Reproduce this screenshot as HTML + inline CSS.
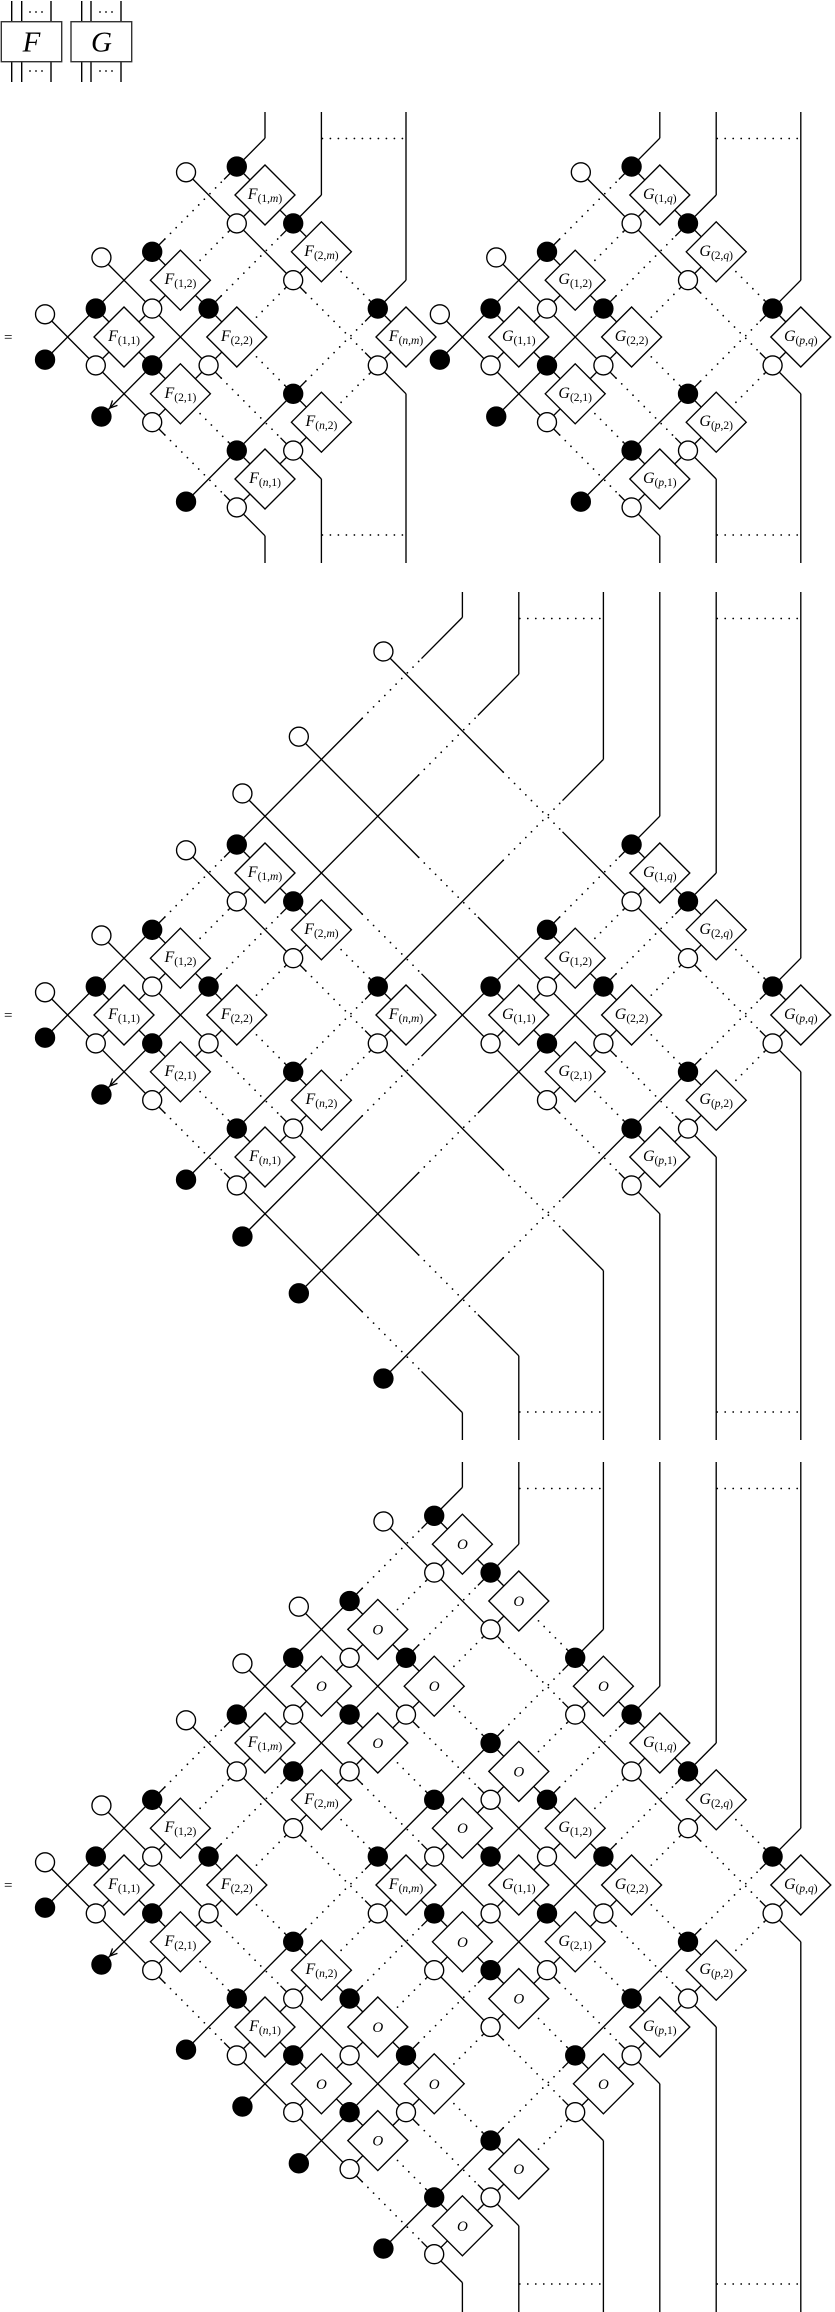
<!DOCTYPE html>
<html><head><meta charset="utf-8"><style>
html,body{margin:0;padding:0;background:#fff;}
svg{display:block;}
text{font-family:"Liberation Serif",serif;}
</style></head><body>
<svg id="s" width="835" height="2312" viewBox="0 0 835 2312" xmlns="http://www.w3.org/2000/svg">
<rect width="835" height="2312" fill="#fff"/>
<g stroke="#000" stroke-width="1.4" fill="none">
<line x1="11.7" y1="1" x2="11.7" y2="21.7"/><line x1="21.7" y1="1" x2="21.7" y2="21.7"/><line x1="51" y1="1" x2="51" y2="21.7"/>
<line x1="11.7" y1="61.7" x2="11.7" y2="82"/><line x1="21.7" y1="61.7" x2="21.7" y2="82"/><line x1="51" y1="61.7" x2="51" y2="82"/>
<line x1="81.7" y1="1" x2="81.7" y2="21.7"/><line x1="91" y1="1" x2="91" y2="21.7"/><line x1="121" y1="1" x2="121" y2="21.7"/>
<line x1="81.7" y1="61.7" x2="81.7" y2="82"/><line x1="91" y1="61.7" x2="91" y2="82"/><line x1="121" y1="61.7" x2="121" y2="82"/>
<rect x="1.3" y="21.7" width="60.4" height="40" stroke="#333"/>
<rect x="71" y="21.7" width="60.7" height="40" stroke="#333"/>
</g>
<g fill="#000">
<circle cx="30" cy="12" r="0.9"/><circle cx="36" cy="12" r="0.9"/><circle cx="42" cy="12" r="0.9"/>
<circle cx="30" cy="71" r="0.9"/><circle cx="36" cy="71" r="0.9"/><circle cx="42" cy="71" r="0.9"/>
<circle cx="100" cy="12" r="0.9"/><circle cx="106" cy="12" r="0.9"/><circle cx="112" cy="12" r="0.9"/>
<circle cx="100" cy="71" r="0.9"/><circle cx="106" cy="71" r="0.9"/><circle cx="112" cy="71" r="0.9"/>
</g>
<text x="31.5" y="51.5" font-size="29" font-style="italic" text-anchor="middle">F</text>
<text x="101.5" y="51.5" font-size="29" font-style="italic" text-anchor="middle">G</text>
<text x="4" y="342" font-size="15">=</text>
<text x="4" y="1020" font-size="15">=</text>
<text x="4" y="1890" font-size="15">=</text>
<g id="L" stroke="#000" stroke-width="1.35" fill="none"></g>
<g id="D" stroke="#000" stroke-width="1.35" fill="#fff"></g>
<g id="K" stroke="#000" stroke-width="1.35"></g>

<g id="labels" text-anchor="middle" font-size="16">
<g transform="translate(0,337)">
<text x="124" y="4"><tspan font-style="italic">F</tspan><tspan font-size="11.5" dy="3">(1,1)</tspan></text>
<text x="180.4" y="-52.8"><tspan font-style="italic">F</tspan><tspan font-size="11.5" dy="3">(1,2)</tspan></text>
<text x="265" y="-138"><tspan font-style="italic">F</tspan><tspan font-size="11.5" dy="3">(1,<tspan font-style="italic">m</tspan>)</tspan></text>
<text x="180.4" y="60.8"><tspan font-style="italic">F</tspan><tspan font-size="11.5" dy="3">(2,1)</tspan></text>
<text x="236.8" y="4"><tspan font-style="italic">F</tspan><tspan font-size="11.5" dy="3">(2,2)</tspan></text>
<text x="321.4" y="-81.2"><tspan font-style="italic">F</tspan><tspan font-size="11.5" dy="3">(2,<tspan font-style="italic">m</tspan>)</tspan></text>
<text x="265" y="146"><tspan font-style="italic">F</tspan><tspan font-size="11.5" dy="3">(<tspan font-style="italic">n</tspan>,1)</tspan></text>
<text x="321.4" y="89.2"><tspan font-style="italic">F</tspan><tspan font-size="11.5" dy="3">(<tspan font-style="italic">n</tspan>,2)</tspan></text>
<text x="406" y="4"><tspan font-style="italic">F</tspan><tspan font-size="11.5" dy="3">(<tspan font-style="italic">n</tspan>,<tspan font-style="italic">m</tspan>)</tspan></text>
<text x="518.8" y="4"><tspan font-style="italic">G</tspan><tspan font-size="11.5" dy="3">(1,1)</tspan></text>
<text x="575.2" y="-52.8"><tspan font-style="italic">G</tspan><tspan font-size="11.5" dy="3">(1,2)</tspan></text>
<text x="659.8" y="-138"><tspan font-style="italic">G</tspan><tspan font-size="11.5" dy="3">(1,<tspan font-style="italic">q</tspan>)</tspan></text>
<text x="575.2" y="60.8"><tspan font-style="italic">G</tspan><tspan font-size="11.5" dy="3">(2,1)</tspan></text>
<text x="631.6" y="4"><tspan font-style="italic">G</tspan><tspan font-size="11.5" dy="3">(2,2)</tspan></text>
<text x="716.2" y="-81.2"><tspan font-style="italic">G</tspan><tspan font-size="11.5" dy="3">(2,<tspan font-style="italic">q</tspan>)</tspan></text>
<text x="659.8" y="146"><tspan font-style="italic">G</tspan><tspan font-size="11.5" dy="3">(<tspan font-style="italic">p</tspan>,1)</tspan></text>
<text x="716.2" y="89.2"><tspan font-style="italic">G</tspan><tspan font-size="11.5" dy="3">(<tspan font-style="italic">p</tspan>,2)</tspan></text>
<text x="800.8" y="4"><tspan font-style="italic">G</tspan><tspan font-size="11.5" dy="3">(<tspan font-style="italic">p</tspan>,<tspan font-style="italic">q</tspan>)</tspan></text>
</g>
<g transform="translate(0,1015)">
<text x="124" y="4"><tspan font-style="italic">F</tspan><tspan font-size="11.5" dy="3">(1,1)</tspan></text>
<text x="180.4" y="-52.8"><tspan font-style="italic">F</tspan><tspan font-size="11.5" dy="3">(1,2)</tspan></text>
<text x="265" y="-138"><tspan font-style="italic">F</tspan><tspan font-size="11.5" dy="3">(1,<tspan font-style="italic">m</tspan>)</tspan></text>
<text x="180.4" y="60.8"><tspan font-style="italic">F</tspan><tspan font-size="11.5" dy="3">(2,1)</tspan></text>
<text x="236.8" y="4"><tspan font-style="italic">F</tspan><tspan font-size="11.5" dy="3">(2,2)</tspan></text>
<text x="321.4" y="-81.2"><tspan font-style="italic">F</tspan><tspan font-size="11.5" dy="3">(2,<tspan font-style="italic">m</tspan>)</tspan></text>
<text x="265" y="146"><tspan font-style="italic">F</tspan><tspan font-size="11.5" dy="3">(<tspan font-style="italic">n</tspan>,1)</tspan></text>
<text x="321.4" y="89.2"><tspan font-style="italic">F</tspan><tspan font-size="11.5" dy="3">(<tspan font-style="italic">n</tspan>,2)</tspan></text>
<text x="406" y="4"><tspan font-style="italic">F</tspan><tspan font-size="11.5" dy="3">(<tspan font-style="italic">n</tspan>,<tspan font-style="italic">m</tspan>)</tspan></text>
<text x="518.8" y="4"><tspan font-style="italic">G</tspan><tspan font-size="11.5" dy="3">(1,1)</tspan></text>
<text x="575.2" y="-52.8"><tspan font-style="italic">G</tspan><tspan font-size="11.5" dy="3">(1,2)</tspan></text>
<text x="659.8" y="-138"><tspan font-style="italic">G</tspan><tspan font-size="11.5" dy="3">(1,<tspan font-style="italic">q</tspan>)</tspan></text>
<text x="575.2" y="60.8"><tspan font-style="italic">G</tspan><tspan font-size="11.5" dy="3">(2,1)</tspan></text>
<text x="631.6" y="4"><tspan font-style="italic">G</tspan><tspan font-size="11.5" dy="3">(2,2)</tspan></text>
<text x="716.2" y="-81.2"><tspan font-style="italic">G</tspan><tspan font-size="11.5" dy="3">(2,<tspan font-style="italic">q</tspan>)</tspan></text>
<text x="659.8" y="146"><tspan font-style="italic">G</tspan><tspan font-size="11.5" dy="3">(<tspan font-style="italic">p</tspan>,1)</tspan></text>
<text x="716.2" y="89.2"><tspan font-style="italic">G</tspan><tspan font-size="11.5" dy="3">(<tspan font-style="italic">p</tspan>,2)</tspan></text>
<text x="800.8" y="4"><tspan font-style="italic">G</tspan><tspan font-size="11.5" dy="3">(<tspan font-style="italic">p</tspan>,<tspan font-style="italic">q</tspan>)</tspan></text>
</g>
<g transform="translate(0,1885)">
<text x="124" y="4"><tspan font-style="italic">F</tspan><tspan font-size="11.5" dy="3">(1,1)</tspan></text>
<text x="180.4" y="-52.8"><tspan font-style="italic">F</tspan><tspan font-size="11.5" dy="3">(1,2)</tspan></text>
<text x="265" y="-138"><tspan font-style="italic">F</tspan><tspan font-size="11.5" dy="3">(1,<tspan font-style="italic">m</tspan>)</tspan></text>
<text x="180.4" y="60.8"><tspan font-style="italic">F</tspan><tspan font-size="11.5" dy="3">(2,1)</tspan></text>
<text x="236.8" y="4"><tspan font-style="italic">F</tspan><tspan font-size="11.5" dy="3">(2,2)</tspan></text>
<text x="321.4" y="-81.2"><tspan font-style="italic">F</tspan><tspan font-size="11.5" dy="3">(2,<tspan font-style="italic">m</tspan>)</tspan></text>
<text x="265" y="146"><tspan font-style="italic">F</tspan><tspan font-size="11.5" dy="3">(<tspan font-style="italic">n</tspan>,1)</tspan></text>
<text x="321.4" y="89.2"><tspan font-style="italic">F</tspan><tspan font-size="11.5" dy="3">(<tspan font-style="italic">n</tspan>,2)</tspan></text>
<text x="406" y="4"><tspan font-style="italic">F</tspan><tspan font-size="11.5" dy="3">(<tspan font-style="italic">n</tspan>,<tspan font-style="italic">m</tspan>)</tspan></text>
<text x="518.8" y="4"><tspan font-style="italic">G</tspan><tspan font-size="11.5" dy="3">(1,1)</tspan></text>
<text x="575.2" y="-52.8"><tspan font-style="italic">G</tspan><tspan font-size="11.5" dy="3">(1,2)</tspan></text>
<text x="659.8" y="-138"><tspan font-style="italic">G</tspan><tspan font-size="11.5" dy="3">(1,<tspan font-style="italic">q</tspan>)</tspan></text>
<text x="575.2" y="60.8"><tspan font-style="italic">G</tspan><tspan font-size="11.5" dy="3">(2,1)</tspan></text>
<text x="631.6" y="4"><tspan font-style="italic">G</tspan><tspan font-size="11.5" dy="3">(2,2)</tspan></text>
<text x="716.2" y="-81.2"><tspan font-style="italic">G</tspan><tspan font-size="11.5" dy="3">(2,<tspan font-style="italic">q</tspan>)</tspan></text>
<text x="659.8" y="146"><tspan font-style="italic">G</tspan><tspan font-size="11.5" dy="3">(<tspan font-style="italic">p</tspan>,1)</tspan></text>
<text x="716.2" y="89.2"><tspan font-style="italic">G</tspan><tspan font-size="11.5" dy="3">(<tspan font-style="italic">p</tspan>,2)</tspan></text>
<text x="800.8" y="4"><tspan font-style="italic">G</tspan><tspan font-size="11.5" dy="3">(<tspan font-style="italic">p</tspan>,<tspan font-style="italic">q</tspan>)</tspan></text>
<g font-style="italic" font-size="15">
<text x="321.4" y="-193.8">O</text><text x="377.8" y="-250.6">O</text><text x="462.4" y="-335.8">O</text>
<text x="377.8" y="-137">O</text><text x="434.2" y="-193.8">O</text><text x="518.8" y="-279">O</text>
<text x="462.4" y="-51.8">O</text><text x="518.8" y="-108.6">O</text><text x="603.4" y="-193.8">O</text>
<text x="321.4" y="203.8">O</text><text x="377.8" y="147">O</text><text x="462.4" y="61.8">O</text>
<text x="377.8" y="260.6">O</text><text x="434.2" y="203.8">O</text><text x="518.8" y="118.6">O</text>
<text x="462.4" y="345.8">O</text><text x="518.8" y="289">O</text><text x="603.4" y="203.8">O</text>
</g>
</g>
</g>
</svg>
<script>
(function(){
var NS='http://www.w3.org/2000/svg';
var L=document.getElementById('L'),D=document.getElementById('D'),K=document.getElementById('K');
function el(par,tag,at){var e=document.createElementNS(NS,tag);for(var k in at)e.setAttribute(k,at[k]);par.appendChild(e);return e;}
function pt(C,a,b){return [C[0]+(a+b)*28.2, C[1]+(a-b)*28.4];}
function ln(p,q,dot){var at={x1:p[0].toFixed(2),y1:p[1].toFixed(2),x2:q[0].toFixed(2),y2:q[1].toFixed(2)};
 if(dot){at['stroke-dasharray']='0 8';at['stroke-linecap']='round';at['stroke-width']='1.8';}
 el(L,'line',at);}
function wire(f,t0,t1,dots){
 var t=t0;
 dots=dots.filter(function(d){return d[1]>t0&&d[0]<t1;}).sort(function(x,y){return x[0]-y[0];});
 for(var i=0;i<dots.length;i++){var d=dots[i];var s=Math.max(d[0],t0),e=Math.min(d[1],t1);
  if(s>t) ln(f(t),f(s),false);
  ln(f(s),f(e),true); t=e;}
 if(t<t1) ln(f(t),f(t1),false);
}
var WD=[[2.45,4.55],[9.45,11.55]];
var CD=[[2.5,3.72],[9.5,10.72]];
var FA=[0,2,5],GA=[7,9,12],ALL=FA.concat(GA);
var secs=[{cy:337,top:112,bot:563,m:1},{cy:1015,top:592,bot:1440,m:2},{cy:1885,top:1462,bot:2312,m:3}];
secs.forEach(function(s){
 var C=[124,s.cy];
 var blk=[],wht=[],bx={},wx={};
 ALL.forEach(function(a){
  var u=a-1,isF=a<7;
  var v0=(isF||s.m>1)?-1.8:5.2, v1=(!isF||s.m>1)?13:6;
  wire(function(t){return pt(C,u,t);},v0,v1,WD);
  var e=pt(C,u,v1); ln(e,[e[0],s.top],false); bx[a]=e[0];
  blk.push(pt(C,u,v0));
  if(isF&&a==2){
   var tip=pt(C,u,v0+0.3);var dx=0.704,dy=-0.71;
   [0.45,-0.45].forEach(function(r){var c=Math.cos(r),sn=Math.sin(r);
    var wx2=dx*c-dy*sn,wy2=dx*sn+dy*c;
    ln(tip,[tip[0]+wx2*8,tip[1]+wy2*8],false);});
  }
 });
 ALL.forEach(function(b){
  var v=b-1,isF=b<7;
  var u0=(isF||s.m>1)?-1.8:5.2, u1=(!isF||s.m>1)?13:6;
  wire(function(t){return pt(C,t,v);},u0,u1,WD);
  var e=pt(C,u1,v); ln(e,[e[0],s.bot],false); wx[b]=e[0];
  wht.push(pt(C,u0,v));
 });
 var ty=s.top+26.5, by=s.bot-28;
 ln([bx[2]+1,ty],[bx[5]-1,ty],true); ln([bx[9]+1,ty],[bx[12]-1,ty],true);
 ln([wx[2]+1,by],[wx[5]-1,by],true); ln([wx[9]+1,by],[wx[12]-1,by],true);
 // center lines
 ALL.forEach(function(b){
  if(s.m==3) wire(function(t){return pt(C,t,b);},-1,12,CD);
  else if(b<7) wire(function(t){return pt(C,t,b);},-1,5,CD);
  else wire(function(t){return pt(C,t,b);},6,12,CD);
 });
 ALL.forEach(function(a){
  if(s.m==3) wire(function(t){return pt(C,a,t);},-1,12,CD);
  else if(a<7) wire(function(t){return pt(C,a,t);},-1,5,CD);
  else wire(function(t){return pt(C,a,t);},6,12,CD);
 });
 // diamonds
 ALL.forEach(function(a){ALL.forEach(function(b){
  if(s.m<3 && ((a<7)!=(b<7))) return;
  var p=pt(C,a,b),h=30;
  el(D,'polygon',{points:(p[0]-h)+','+p[1]+' '+p[0]+','+(p[1]-h)+' '+(p[0]+h)+','+p[1]+' '+p[0]+','+(p[1]+h)});
  var q=pt(C,a-1,b); el(K,'circle',{cx:q[0],cy:q[1],r:9.5,fill:'#000'});
  var w=pt(C,a,b-1); el(K,'circle',{cx:w[0],cy:w[1],r:9.5,fill:'#fff'});
 });});
 blk.forEach(function(p){el(K,'circle',{cx:p[0],cy:p[1],r:9.5,fill:'#000'});});
 wht.forEach(function(p){el(K,'circle',{cx:p[0],cy:p[1],r:9.5,fill:'#fff'});});
});
})();
</script>
</body></html>
